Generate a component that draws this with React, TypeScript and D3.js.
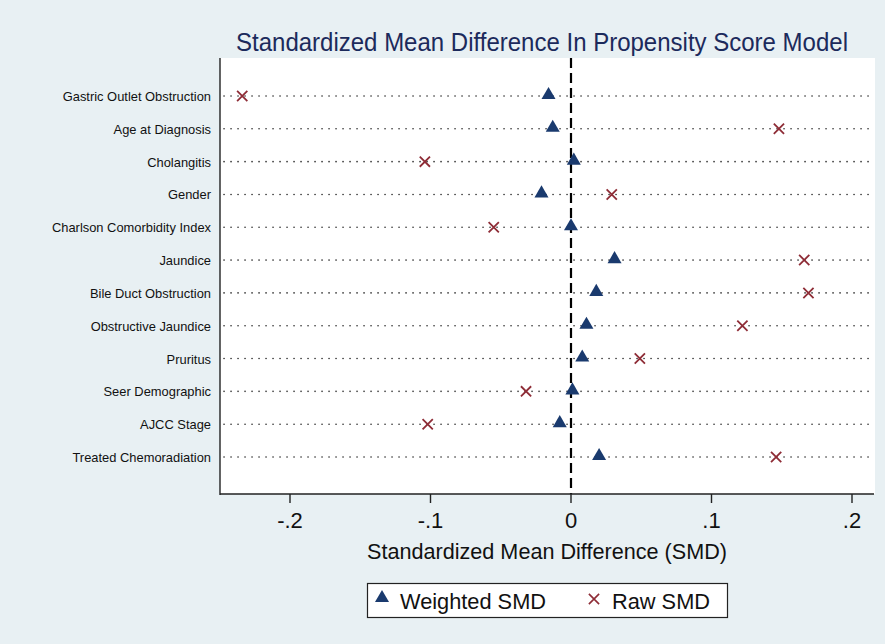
import React, { useEffect, useRef } from 'react';
import * as d3 from 'd3';

const covariates = [
  'Gastric Outlet Obstruction',
  'Age at Diagnosis',
  'Cholangitis',
  'Gender',
  'Charlson Comorbidity Index',
  'Jaundice',
  'Bile Duct Obstruction',
  'Obstructive Jaundice',
  'Pruritus',
  'Seer Demographic ',
  'AJCC Stage',
  'Treated Chemoradiation',
];
const weightedSmd = [-0.016, -0.013, 0.002, -0.021, 0.0, 0.031, 0.018, 0.011, 0.008, 0.001, -0.008, 0.02];
const rawSmd = [-0.234, 0.148, -0.104, 0.029, -0.055, 0.166, 0.169, 0.122, 0.049, -0.032, -0.102, 0.146];
const xTicks = [-0.2, -0.1, 0, 0.1, 0.2];
const xTickLabels = ['-.2', '-.1', '0', '.1', '.2'];

const W = 885, H = 644;
const BG = '#e8f0f3';
const NAVY = '#1a3a6e';
const MAROON = '#8e2c36';
const FONT = '"Liberation Sans", Arial, sans-serif';

export default function App() {
  const ref = useRef<SVGSVGElement>(null);

  useEffect(() => {
    const svg = d3.select(ref.current);
    svg.selectAll('*').remove();

    const plot = { left: 220, right: 875, top: 58, bottom: 494 };

    svg.append('rect').attr('width', W).attr('height', H).attr('fill', BG);
    svg.append('rect')
      .attr('x', plot.left).attr('y', plot.top)
      .attr('width', plot.right - plot.left).attr('height', plot.bottom - plot.top)
      .attr('fill', '#fff');

    const x = d3.scaleLinear().domain([0, 0.2]).range([571, 852]);
    const y = d3.scalePoint<string>().domain(covariates).range([96, 457]);

    // title
    svg.append('text')
      .attr('x', 542).attr('y', 51)
      .attr('text-anchor', 'middle')
      .attr('font-family', FONT).attr('font-size', 25)
      .attr('fill', '#1c2a5c')
      .attr('textLength', 612).attr('lengthAdjust', 'spacingAndGlyphs')
      .text('Standardized Mean Difference In Propensity Score Model');

    // dotted row lines
    svg.append('g').selectAll('line').data(covariates).join('line')
      .attr('x1', plot.left + 4).attr('x2', plot.right)
      .attr('y1', d => y(d)!).attr('y2', d => y(d)!)
      .attr('stroke', '#333').attr('stroke-width', 1.6)
      .attr('stroke-linecap', 'round')
      .attr('stroke-dasharray', '0.1 6.9');

    // row labels
    svg.append('g').selectAll('text').data(covariates).join('text')
      .attr('x', 211).attr('y', d => y(d)! + 5)
      .attr('text-anchor', 'end')
      .attr('font-family', FONT).attr('font-size', 12.9)
      .attr('fill', '#111')
      .text(d => d);

    // zero reference line
    svg.append('line')
      .attr('x1', x(0)).attr('x2', x(0))
      .attr('y1', plot.top).attr('y2', plot.bottom)
      .attr('stroke', '#000').attr('stroke-width', 2.2)
      .attr('stroke-dasharray', '10 5');

    // axes
    svg.append('line')
      .attr('x1', plot.left).attr('x2', plot.left)
      .attr('y1', plot.top).attr('y2', plot.bottom + 1)
      .attr('stroke', '#222').attr('stroke-width', 1.4);
    const axis = svg.append('g').attr('transform', `translate(0,${plot.bottom})`);
    axis.append('line')
      .attr('x1', plot.left).attr('x2', plot.right - 1)
      .attr('stroke', '#222').attr('stroke-width', 1.4);
    axis.selectAll('.tick').data(xTicks).join('line')
      .attr('class', 'tick')
      .attr('x1', d => x(d)).attr('x2', d => x(d))
      .attr('y1', 0).attr('y2', 9)
      .attr('stroke', '#222').attr('stroke-width', 1.4);
    axis.selectAll('.ticklab').data(xTicks).join('text')
      .attr('class', 'ticklab')
      .attr('x', d => x(d)).attr('y', 34)
      .attr('text-anchor', 'middle')
      .attr('font-family', FONT).attr('font-size', 22)
      .attr('fill', '#111')
      .text((d, i) => xTickLabels[i]);

    svg.append('text')
      .attr('x', 547).attr('y', 559)
      .attr('text-anchor', 'middle')
      .attr('font-family', FONT).attr('font-size', 22.5)
      .attr('fill', '#111')
      .attr('textLength', 360).attr('lengthAdjust', 'spacingAndGlyphs')
      .text('Standardized Mean Difference (SMD)');

    const tri = d3.symbol().type(d3.symbolTriangle).size(85);
    const cross = d3.symbol().type(d3.symbolX).size(70);

    // raw SMD markers
    svg.append('g').selectAll('path').data(rawSmd).join('path')
      .attr('transform', (d, i) => `translate(${x(d)},${y(covariates[i])})`)
      .attr('d', cross)
      .attr('fill', 'none').attr('stroke', MAROON).attr('stroke-width', 1.8);

    // weighted SMD markers
    svg.append('g').selectAll('path').data(weightedSmd).join('path')
      .attr('transform', (d, i) => `translate(${x(d)},${y(covariates[i]) - 1})`)
      .attr('d', tri)
      .attr('fill', NAVY);

    // legend
    const lg = svg.append('g');
    lg.append('rect')
      .attr('x', 367.5).attr('y', 583.5).attr('width', 360).attr('height', 34)
      .attr('fill', '#fff').attr('stroke', '#222').attr('stroke-width', 1.2);
    lg.append('path')
      .attr('transform', 'translate(382,598)')
      .attr('d', tri).attr('fill', NAVY);
    lg.append('text')
      .attr('x', 400).attr('y', 609)
      .attr('font-family', FONT).attr('font-size', 22.5).attr('fill', '#111')
      .attr('textLength', 146).attr('lengthAdjust', 'spacingAndGlyphs')
      .text('Weighted SMD');
    lg.append('path')
      .attr('transform', 'translate(594,599)')
      .attr('d', cross).attr('fill', 'none').attr('stroke', MAROON).attr('stroke-width', 1.6);
    lg.append('text')
      .attr('x', 612).attr('y', 609)
      .attr('font-family', FONT).attr('font-size', 22.5).attr('fill', '#111')
      .attr('textLength', 98).attr('lengthAdjust', 'spacingAndGlyphs')
      .text('Raw SMD');
  }, []);

  return (
    <svg ref={ref} width={W} height={H} style={{ display: 'block', position: 'absolute', left: 0, top: 0 }} />
  );
}
